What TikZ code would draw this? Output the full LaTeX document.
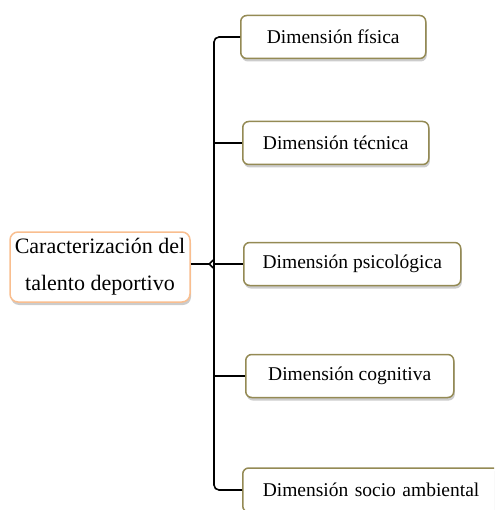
\documentclass[tikz,border=0pt]{standalone}
\usepackage{fontspec}
\setmainfont{Liberation Serif}
\usepackage{tikz}
\usetikzlibrary{positioning}
\usetikzlibrary{arrows.meta}
\usetikzlibrary{shadows}

\definecolor{olivebox}{HTML}{948A54}
\definecolor{orangebox}{HTML}{F9BE8F}
\tikzset{
	dimbox/.style={rectangle, rounded corners=6pt, draw=olivebox, line width=1.5pt, fill=white, minimum height=43pt, inner sep=0pt, font=\fontsize{19.5}{22}\selectfont, drop shadow={shadow xshift=1pt, shadow yshift=-3pt, opacity=0.4}},
	mainbox/.style={rectangle, rounded corners=8pt, draw=orangebox, line width=1.5pt, fill=white, minimum width=180pt, minimum height=70pt, inner sep=0pt, align=center, font=\fontsize{22}{37}\selectfont, drop shadow={shadow xshift=1pt, shadow yshift=-3pt, opacity=0.4}},
	spine/.style={line width=1.6pt, black}
}

\begin{document}
\begin{tikzpicture}[x=1pt, y=-1pt]
		\useasboundingbox (0,0) rectangle (494,510);
		\clip (0,0) rectangle (494,510);
		\node[mainbox] (Talento) at (100,267) {Caracterización del\\talento deportivo};
		\node[dimbox, minimum width=185pt, anchor=west] (DimFisica) at (240,37) {Dimensión física};
		\node[dimbox, minimum width=186pt, anchor=west] (DimTecnica) at (242,143) {Dimensión técnica};
		\node[dimbox, minimum width=217pt, anchor=west] (DimPsico) at (243,264) {Dimensión psicológica};
		\node[dimbox, minimum width=208pt, anchor=west] (DimCogn) at (245,376) {Dimensión cognitiva};
		\node[dimbox, minimum width=262pt, minimum height=44pt, anchor=west, text width=262pt, align=left] (DimSocio) at (242,490) {\hspace{20pt}Dimensión socio ambiental};
		\coordinate (Junta) at (214,264);
		\draw[spine, rounded corners=5pt] (DimFisica.west) -| (Junta) |- (DimSocio.west);
		\draw[spine] (DimTecnica.west) -- (DimTecnica.west -| Junta);
		\draw[spine] (DimCogn.west) -- (DimCogn.west -| Junta);
		\draw[spine] (Junta) -- (DimPsico.west);
		\draw[spine, -{Straight Barb[reversed, length=4pt, width=8pt]}] (Talento.east |- Junta) -- (Junta);
	\end{tikzpicture}
\end{document}
